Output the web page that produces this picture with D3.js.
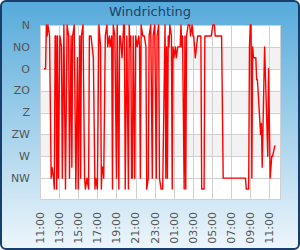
<!DOCTYPE html>
<html>
<head>
<meta charset="utf-8">
<script src="https://cdn.jsdelivr.net/npm/d3@7"></script>
<style>
body { margin: 0; padding: 0; }
svg { display: block; font-family: "DejaVu Sans", Verdana, sans-serif; }
</style>
</head>
<body>
<script>
// wind direction readings (degrees), times as HH:MM, rolling over midnight
var times = ["11:25","11:35","11:40","11:45","11:50","12:00","12:10","12:15","12:25","12:30",
  "12:35","12:40","12:45","12:50","12:55","13:05","13:15","13:20","13:30","13:40",
  "13:50","14:00","14:05","14:15","14:20","14:25","14:35","14:45","14:55","15:00",
  "15:10","15:15","15:20","15:30","15:40","15:45","15:55","16:05","16:10","16:20",
  "16:35","16:45","16:50","17:00","17:10","17:15","17:20","17:25","17:30","17:35",
  "17:40","17:50","18:00","18:05","18:15","18:20","18:30","18:35","18:40","18:50",
  "19:00","19:05","19:15","19:20","19:25","19:35","19:45","19:50","19:55","20:05",
  "20:15","20:20","20:25","20:30","20:35","20:40","20:45","20:55","21:00","21:10",
  "21:20","21:25","21:30","21:35","21:45","21:55","22:05","22:10","22:20","22:25",
  "22:35","22:45","22:50","23:00","23:10","23:15","23:25","23:30","23:40","23:50",
  "00:05","00:10","00:15","00:20","00:25","00:30","00:35","00:45","00:50","00:55",
  "01:00","01:10","01:15","01:25","01:40","01:45","01:50","01:55","02:05","02:10",
  "02:15","02:20","02:30","02:40","02:45","02:55","03:00","03:05","03:15","03:30",
  "03:50","03:55","04:10","04:15","04:55","05:05","05:15","05:20","06:00","06:10",
  "08:30","08:35","08:50","08:55","09:00","09:05","09:10","09:15","09:20","09:35",
  "09:40","09:45","10:05","10:10","10:15","10:30","10:50","10:55","11:05","11:15",
  "11:20","11:35"];
var degrees = [90,90,0,22.5,0,22.5,315,292.5,315,337.5,
  22.5,22.5,337.5,22.5,315,22.5,45,315,0,337.5,
  0,22.5,315,22.5,292.5,22.5,0,337.5,67.5,337.5,
  22.5,315,22.5,0,315,337.5,315,337.5,22.5,22.5,
  67.5,337.5,315,337.5,0,22.5,45,337.5,292.5,292.5,
  315,22.5,0,45,22.5,45,22.5,337.5,0,22.5,
  315,0,337.5,22.5,22.5,67.5,0,0,337.5,22.5,
  337.5,0,45,22.5,315,315,22.5,315,22.5,45,
  22.5,45,315,0,22.5,22.5,45,337.5,315,22.5,
  0,315,22.5,0,315,22.5,0,315,337.5,337.5,
  0,315,45,315,22.5,45,0,22.5,337.5,45,
  67.5,45,67.5,45,45,0,45,22.5,337.5,22.5,
  337.5,22.5,0,0,22.5,0,22.5,22.5,67.5,22.5,
  22.5,337.5,337.5,22.5,22.5,0,0,22.5,22.5,315,
  315,337.5,337.5,45,0,0,315,45,67.5,67.5,
  112.5,112.5,225,202.5,292.5,45,270,90,315,270,
  270,247.5];

var dirLabels = ["N","NO","O","ZO","Z","ZW","W","NW"];
var dirDegrees = [0,45,90,135,180,225,270,315];
var startTime = "11:00", endTime = "12:13";

var W = 300, H = 250;
var margin = {top: 25, right: 19, bottom: 50, left: 40};

function toDate(hm, day) {
  var p = hm.split(":");
  return new Date(2020, 0, 1 + day, +p[0], +p[1]);
}

var data = [], day = 0, prev = -1;
times.forEach(function(t, i) {
  var p = t.split(":"), m = +p[0] * 60 + +p[1];
  if (m < prev) day++;
  prev = m;
  data.push({t: toDate(t, day), v: degrees[i]});
});

var x = d3.scaleTime()
  .domain([toDate(startTime, 0), toDate(endTime, 1)])
  .range([margin.left, W - margin.right]);

var y = d3.scaleLinear()
  .domain([0, 360])
  .range([margin.top, H - margin.bottom]);

var svg = d3.select("body").append("svg")
  .attr("width", W)
  .attr("height", H);

var defs = svg.append("defs");
var grad = defs.append("linearGradient")
  .attr("id", "bg")
  .attr("x1", 0).attr("y1", 0).attr("x2", 0).attr("y2", 1);
grad.append("stop").attr("offset", "0%").attr("stop-color", "#56aadb");
grad.append("stop").attr("offset", "100%").attr("stop-color", "#eef6fb");

svg.append("rect")
  .attr("x", 1).attr("y", 1)
  .attr("width", W - 2).attr("height", H - 2)
  .attr("rx", 5)
  .attr("fill", "url(#bg)")
  .attr("stroke", "#173d6b")
  .attr("stroke-width", 2);

// plot area
svg.append("rect")
  .attr("x", margin.left).attr("y", margin.top)
  .attr("width", W - margin.left - margin.right)
  .attr("height", H - margin.top - margin.bottom)
  .attr("fill", "#fff");

// alternating bands
svg.selectAll(".band")
  .data(d3.range(1, 7, 2))
  .enter().append("rect")
  .attr("class", "band")
  .attr("x", margin.left)
  .attr("width", W - margin.left - margin.right)
  .attr("y", function(i) { return y(dirDegrees[i]); })
  .attr("height", function(i) { return y(dirDegrees[i] + 45) - y(dirDegrees[i]); })
  .attr("fill", "#f2f2f2");

var tickVals = d3.range(0, 13).map(function(i) {
  return d3.timeHour.offset(toDate(startTime, 0), i * 2);
});

// grid
svg.append("g").selectAll("line")
  .data(dirDegrees)
  .enter().append("line")
  .attr("x1", margin.left).attr("x2", W - margin.right)
  .attr("y1", function(d) { return Math.round(y(d)) + 0.5; })
  .attr("y2", function(d) { return Math.round(y(d)) + 0.5; })
  .attr("stroke", "#d0d0d0");

svg.append("g").selectAll("line")
  .data(tickVals)
  .enter().append("line")
  .attr("x1", function(d) { return Math.round(x(d)) + 0.5; })
  .attr("x2", function(d) { return Math.round(x(d)) + 0.5; })
  .attr("y1", margin.top).attr("y2", H - margin.bottom)
  .attr("stroke", "#d0d0d0");

svg.append("rect")
  .attr("x", margin.left + 0.5).attr("y", margin.top + 0.5)
  .attr("width", W - margin.left - margin.right - 1)
  .attr("height", H - margin.top - margin.bottom - 1)
  .attr("fill", "none")
  .attr("stroke", "#d0d0d0");

// line
var line = d3.line()
  .x(function(d) { return x(d.t); })
  .y(function(d) { return y(d.v); });

svg.append("path")
  .datum(data)
  .attr("d", line)
  .attr("fill", "none")
  .attr("stroke", "#ff0000")
  .attr("stroke-width", 1.4)
  .attr("stroke-linejoin", "round");

// y labels
svg.append("g").selectAll("text")
  .data(dirDegrees)
  .enter().append("text")
  .attr("x", margin.left - 10)
  .attr("y", function(d) { return y(d); })
  .attr("dy", "0.35em")
  .attr("text-anchor", "end")
  .attr("font-size", 11)
  .attr("fill", "#555")
  .text(function(d, i) { return dirLabels[i]; });

// x labels
var fmt = d3.timeFormat("%H:%M");
svg.append("g").selectAll("text")
  .data(tickVals)
  .enter().append("text")
  .attr("transform", function(d) { return "translate(" + x(d) + "," + (H - margin.bottom + 12) + ") rotate(-90)"; })
  .attr("dy", "0.35em")
  .attr("text-anchor", "end")
  .attr("font-size", 11)
  .attr("fill", "#555")
  .text(function(d) { return fmt(d); });

// title
svg.append("text")
  .attr("x", W / 2)
  .attr("y", 16)
  .attr("text-anchor", "middle")
  .attr("font-size", 13)
  .attr("fill", "#1f4266")
  .text("Windrichting");
</script>
</body>
</html>
